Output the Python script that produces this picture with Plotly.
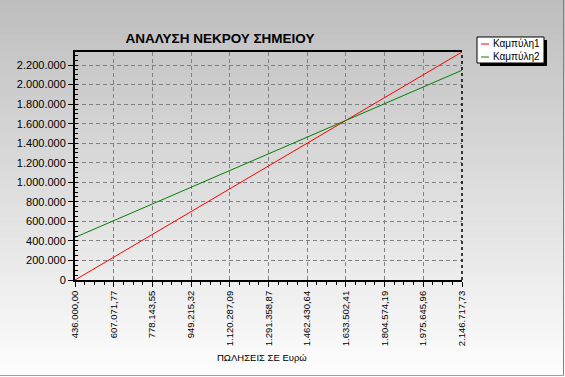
import plotly.graph_objects as go

# ---- data ----
sales_x = [436000.00, 607071.77, 778143.55, 949215.32, 1120287.09, 1291358.87,
           1462430.64, 1633502.41, 1804574.19, 1975645.96, 2146717.73]
x_tick_labels = ["436.000,00", "607.071,77", "778.143,55", "949.215,32", "1.120.287,09",
                 "1.291.358,87", "1.462.430,64", "1.633.502,41", "1.804.574,19",
                 "1.975.645,96", "2.146.717,73"]
curve1 = [0, 233358, 466715, 700073, 933430, 1166788, 1400145, 1633503, 1866860, 2100218, 2333575]
curve2 = [436000.00, 607071.77, 778143.55, 949215.32, 1120287.09, 1291358.87,
          1462430.64, 1633502.41, 1804574.19, 1975645.96, 2146717.73]
series_names = ["Καμπύλη1", "Καμπύλη2"]
series_colors = ["#ff0000", "#008000"]
y_tick_vals = [0, 200000, 400000, 600000, 800000, 1000000, 1200000, 1400000,
               1600000, 1800000, 2000000, 2200000]
title_text = "ΑΝΑΛΥΣΗ ΝΕΚΡΟΥ ΣΗΜΕΙΟΥ"
x_title = "ΠΩΛΗΣΕΙΣ ΣΕ Ευρώ"

W, H = 565, 377
ML, MR, MT, MB = 75, 103, 52, 97
PW, PH = W - ML - MR, H - MT - MB

def px(x):  # pixel -> paper x
    return (x - ML) / PW

def py(y):  # pixel -> paper y
    return 1 - (y - MT) / PH

fig = go.Figure()
for name, ys, col in zip(series_names, [curve1, curve2], series_colors):
    fig.add_trace(go.Scatter(x=sales_x, y=ys, mode="lines", name=name,
                             line=dict(color=col, width=1), showlegend=False))

shapes = []
# vertical gradient background
N = 75
top_c, bot_c = (190, 190, 190), (253, 253, 253)
for i in range(N):
    t = i / (N - 1)
    c = tuple(int(round(top_c[k] + (bot_c[k] - top_c[k]) * t)) for k in range(3))
    y0 = H * i / N
    y1 = H * (i + 1) / N + 0.5
    shapes.append(dict(type="rect", xref="paper", yref="paper", layer="below",
                       x0=px(0), x1=px(W), y0=py(y0), y1=py(y1),
                       fillcolor="rgb(%d,%d,%d)" % c, line=dict(width=0)))
# outer frame
shapes.append(dict(type="line", xref="paper", yref="paper", x0=px(563.5), x1=px(563.5),
                   y0=py(0), y1=py(375.5), line=dict(color="#808080", width=1)))
shapes.append(dict(type="line", xref="paper", yref="paper", x0=px(0), x1=px(563.5),
                   y0=py(375.5), y1=py(375.5), line=dict(color="#a0a098", width=1)))
# right border dashed
shapes.append(dict(type="line", xref="paper", yref="paper", x0=1, x1=1, y0=0, y1=1,
                   line=dict(color="black", width=1.5, dash="3px,3px")))
# legend shadow and box
lx0, lx1, ly0, ly1 = 477, 544, 37, 63
shapes.append(dict(type="rect", xref="paper", yref="paper", x0=px(lx0 + 3), x1=px(lx1 + 3),
                   y0=py(ly0 + 3), y1=py(ly1 + 3), fillcolor="black", line=dict(width=0)))
shapes.append(dict(type="rect", xref="paper", yref="paper", x0=px(lx0), x1=px(lx1),
                   y0=py(ly0), y1=py(ly1), fillcolor="white", line=dict(color="black", width=1)))
annotations = []
for i, (name, col) in enumerate(zip(series_names, series_colors)):
    yy = 44 + 13 * i
    shapes.append(dict(type="line", xref="paper", yref="paper", x0=px(481), x1=px(489),
                       y0=py(yy), y1=py(yy), line=dict(color=col, width=1)))
    annotations.append(dict(text=name, xref="paper", yref="paper", x=px(491), y=py(yy),
                            xanchor="left", yanchor="middle", showarrow=False,
                            font=dict(family="Liberation Sans, Arial", size=10, color="black")))
annotations.append(dict(text=x_title, xref="paper", yref="paper", x=px(262), y=py(357),
                        xanchor="center", yanchor="middle", showarrow=False,
                        font=dict(family="Liberation Sans, Arial", size=9.5, color="black")))

fig.update_layout(
    width=W, height=H,
    margin=dict(l=ML, r=MR, t=MT, b=MB, pad=0),
    paper_bgcolor="#d0d0d0",
    plot_bgcolor="rgba(0,0,0,0)",
    separators=",.",
    showlegend=False,
    title=dict(text="<b>" + title_text + "</b>", x=220 / W, xanchor="center",
               xref="container", yref="container", y=1 - 38 / H, yanchor="middle",
               font=dict(family="Liberation Sans, Arial", size=13.5, color="black")),
    shapes=shapes,
    annotations=annotations,
    font=dict(family="Liberation Sans, Arial", size=11, color="black"),
)
fig.update_xaxes(
    range=[sales_x[0], sales_x[-1]], tickmode="array", tickvals=sales_x, ticktext=x_tick_labels,
    tickangle=-90, ticks="outside", ticklen=5, tickcolor="black",
    showline=True, linecolor="black", linewidth=2, mirror=True,
    showgrid=True, gridcolor="#808080", griddash="4px,3px", gridwidth=1,
    zeroline=False, tickfont=dict(size=9.5),
    minor=dict(ticks="outside", ticklen=3, tickcolor="black", dtick=(sales_x[1] - sales_x[0]) / 4,
               tick0=sales_x[0], showgrid=False),
)
fig.update_yaxes(
    range=[0, curve1[-1]], tickmode="array", tickvals=y_tick_vals, tickformat=",d",
    ticks="outside", ticklen=5, tickcolor="black",
    showline=True, linecolor="black", linewidth=2,
    showgrid=True, gridcolor="#808080", griddash="4px,3px", gridwidth=1,
    zeroline=False, tickfont=dict(size=11),
    minor=dict(ticks="inside", ticklen=3, tickcolor="black", dtick=50000, showgrid=False),
)
fig.write_html("out.html", config={"displayModeBar": False},
               post_script="document.body.style.margin='0';")
